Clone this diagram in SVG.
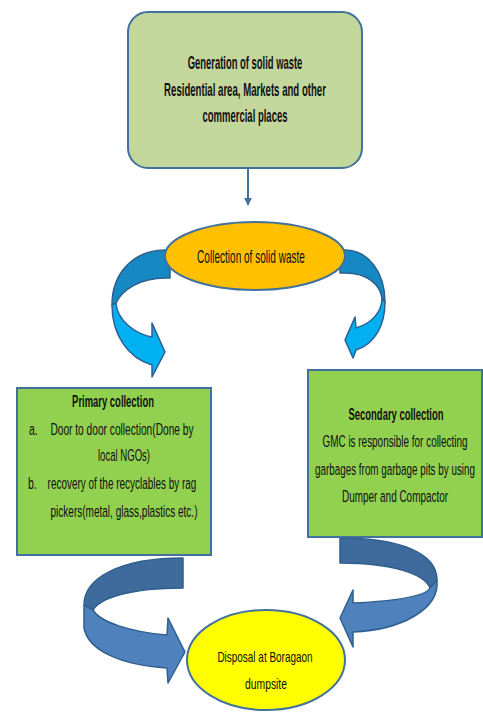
<svg xmlns="http://www.w3.org/2000/svg" width="483" height="717" viewBox="0 0 483 717">
  <style>
    .box { stroke: #41719c; stroke-width: 2; }
    .txt { font-family: "Liberation Sans Narrow", "Liberation Sans", Arial, sans-serif; fill: #111; text-anchor: middle; }
    .bold { font-weight: bold; }
    .lst { text-anchor: start; }
    .rib { stroke: #2f5f8f; stroke-width: 1.5; stroke-linejoin: round; }
    .cyanBack { fill: #1688c2; }
    .cyanFront { fill: #00b0f0; }
    .blueBack { fill: #3e6a9c; }
    .blueFront { fill: #4f81bd; }
  </style>
  <defs>
    <marker id="head" viewBox="0 0 10 10" refX="9" refY="5" markerWidth="4" markerHeight="4" orient="auto">
      <path d="M0,0 L10,5 L0,10 Z" fill="#41719c"/>
    </marker>
  </defs>
  <rect width="483" height="717" fill="#ffffff"/>

  <!-- curved ribbon arrows -->
  <g id="connectors">
    <line x1="248" y1="169" x2="248" y2="205" stroke="#41719c" stroke-width="2" marker-end="url(#head)"/>

    <!-- to primary collection -->
    <path class="rib cyanBack" d="M170,250 L165,250 C135,250 112,272 112,305 L116,303 C122,290 140,278 165,278 L170,278 Z"/>
    <path class="rib cyanFront" d="M112,305 C112,335 128,358 152,365 L152,377 L165,352 L152,323 L152,337 C135,334 117,320 116,303 Z"/>

    <!-- to secondary collection -->
    <path class="rib cyanBack" d="M340,250 L345,250 C368,250 385,272 385,302 L382,298 C380,285 368,273 345,273 L340,273 Z"/>
    <path class="rib cyanFront" d="M385,302 C385,325 375,344 356,350 L353,358 L345,340 L355,317 L356,328 C372,323 382,312 382,298 Z"/>

    <!-- primary collection to disposal -->
    <path class="rib blueBack" d="M183,558 C120,558 84,578 84,605 L93,610 C100,598 130,588 183,588 Z"/>
    <path class="rib blueFront" d="M84,605 L84,628 C88,650 120,665 167,668 L168,683 L185,652 L168,618 L167,635 C130,632 100,622 93,610 Z"/>

    <!-- secondary collection to disposal -->
    <path class="rib blueBack" d="M340,538 C400,538 437,553 437,580 L430,588 C425,575 395,563 340,563 Z"/>
    <path class="rib blueFront" d="M437,580 C440,610 400,630 353,632 L353,647 L340,618 L353,590 L353,603 C395,601 425,597 430,588 Z"/>
  </g>

  <!-- labels are set condensed: scale(0.62,1) around each anchor point -->
  <g id="generation">
    <rect class="box" x="128" y="12" width="234" height="156" rx="20" fill="#c3d69b"/>
    <text class="txt bold" transform="translate(245,69) scale(0.62,1)" font-size="18" textLength="185" lengthAdjust="spacingAndGlyphs">Generation of solid waste</text>
    <text class="txt bold" transform="translate(245,96) scale(0.62,1)" font-size="18" textLength="261" lengthAdjust="spacingAndGlyphs">Residential area, Markets and other</text>
    <text class="txt bold" transform="translate(245,122) scale(0.62,1)" font-size="18" textLength="137" lengthAdjust="spacingAndGlyphs">commercial places</text>
  </g>

  <g id="collection">
    <ellipse class="box" cx="255" cy="256" rx="90" ry="34" fill="#ffc000"/>
    <text class="txt" transform="translate(251,263) scale(0.62,1)" font-size="18" textLength="174" lengthAdjust="spacingAndGlyphs">Collection of solid waste</text>
  </g>

  <g id="primary">
    <rect class="box" x="17" y="388" width="194" height="167" fill="#92d050"/>
    <text class="txt bold" transform="translate(113,407) scale(0.62,1)" font-size="17" textLength="132" lengthAdjust="spacingAndGlyphs">Primary collection</text>
    <text class="txt lst" transform="translate(29,435) scale(0.62,1)" font-size="17">a.</text>
    <text class="txt" transform="translate(122,435) scale(0.62,1)" font-size="17" textLength="231" lengthAdjust="spacingAndGlyphs">Door to door collection(Done by</text>
    <text class="txt" transform="translate(124,461) scale(0.62,1)" font-size="17" textLength="84" lengthAdjust="spacingAndGlyphs">local NGOs)</text>
    <text class="txt lst" transform="translate(28,489) scale(0.62,1)" font-size="17">b.</text>
    <text class="txt" transform="translate(122,489) scale(0.62,1)" font-size="17" textLength="240" lengthAdjust="spacingAndGlyphs">recovery of the recyclables by rag</text>
    <text class="txt" transform="translate(124,517) scale(0.62,1)" font-size="17" textLength="237" lengthAdjust="spacingAndGlyphs">pickers(metal,  glass,plastics etc.)</text>
  </g>

  <g id="secondary">
    <rect class="box" x="308" y="370" width="174" height="167" fill="#92d050"/>
    <text class="txt bold" transform="translate(396,420) scale(0.62,1)" font-size="16.5" textLength="153" lengthAdjust="spacingAndGlyphs">Secondary collection</text>
    <text class="txt" transform="translate(395,447) scale(0.62,1)" font-size="16.5" textLength="234" lengthAdjust="spacingAndGlyphs">GMC is responsible for collecting</text>
    <text class="txt" transform="translate(395,475) scale(0.62,1)" font-size="16.5" textLength="258" lengthAdjust="spacingAndGlyphs">garbages from garbage pits by using</text>
    <text class="txt" transform="translate(395,502) scale(0.62,1)" font-size="16.5" textLength="171" lengthAdjust="spacingAndGlyphs">Dumper and Compactor</text>
  </g>

  <g id="disposal">
    <ellipse class="box" cx="266" cy="660" rx="79" ry="50" fill="#ffff00"/>
    <text class="txt" transform="translate(265,662) scale(0.7,1)" font-size="14" textLength="136" lengthAdjust="spacingAndGlyphs">Disposal at  Boragaon</text>
    <text class="txt" transform="translate(266,689) scale(0.7,1)" font-size="14" textLength="60" lengthAdjust="spacingAndGlyphs">dumpsite</text>
  </g>
</svg>
